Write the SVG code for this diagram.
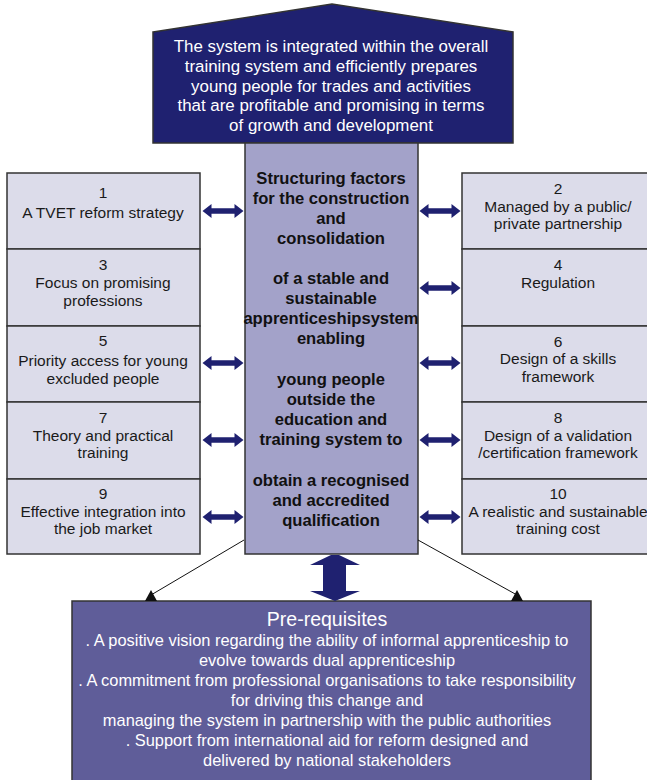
<svg xmlns="http://www.w3.org/2000/svg" width="647" height="780" viewBox="0 0 647 780">
<style>
  .box { fill: #dcdcea; stroke: #333; stroke-width: 1.5; }
  .t { font-family: "Liberation Sans", Arial, sans-serif; font-size: 15.5px; fill: #1a1a1a; text-anchor: middle; }
  .w { font-family: "Liberation Sans", Arial, sans-serif; font-size: 16.9px; fill: #ffffff; text-anchor: middle; }
  .b { font-family: "Liberation Sans", Arial, sans-serif; font-size: 16.6px; font-weight: bold; fill: #111; text-anchor: middle; }
  .p { font-family: "Liberation Sans", Arial, sans-serif; font-size: 16.4px; fill: #ffffff; text-anchor: middle; }
  .arr { fill: #1f2170; }
  .ln { stroke: #111; stroke-width: 1; fill: none; }
</style>
<defs>
  <polygon id="harrow" class="arr" points="-20.5,0 -11.5,-7 -11.5,-2.8 11.5,-2.8 11.5,-7 20.5,0 11.5,7 11.5,2.8 -11.5,2.8 -11.5,7"/>
</defs>
<rect width="647" height="780" fill="#ffffff"/>

<g id="top">
  <polygon points="153,32 332,4 513,32 513,143 153,143" fill="#1f2170" stroke="#333" stroke-width="1.5"/>
  <text class="w" x="331" y="52">The system is integrated within the overall</text>
  <text class="w" x="331" y="72">training system and efficiently prepares</text>
  <text class="w" x="331" y="92">young people for trades and activities</text>
  <text class="w" x="331" y="111">that are profitable and promising in terms</text>
  <text class="w" x="331" y="131">of growth and development</text>
</g>

<g id="center">
  <rect x="245" y="143" width="173" height="411" fill="#a3a2c9" stroke="#333" stroke-width="1.5"/>
  <text class="b" x="331" y="184">Structuring factors</text>
  <text class="b" x="331" y="204">for the construction</text>
  <text class="b" x="331" y="224">and</text>
  <text class="b" x="331" y="244">consolidation</text>
  <text class="b" x="331" y="284">of a stable and</text>
  <text class="b" x="331" y="304">sustainable</text>
  <text class="b" x="331" y="324">apprenticeshipsystem</text>
  <text class="b" x="331" y="344">enabling</text>
  <text class="b" x="331" y="385">young people</text>
  <text class="b" x="331" y="405">outside the</text>
  <text class="b" x="331" y="425">education and</text>
  <text class="b" x="331" y="445">training system to</text>
  <text class="b" x="331" y="486">obtain a recognised</text>
  <text class="b" x="331" y="506">and accredited</text>
  <text class="b" x="331" y="526">qualification</text>
</g>

<g id="n1">
  <rect class="box" x="7" y="173" width="193" height="76"/>
  <text class="t" x="103" y="198">1</text>
  <text class="t" x="103" y="218">A TVET reform strategy</text>
</g>
<g id="n3">
  <rect class="box" x="7" y="249" width="193" height="77"/>
  <text class="t" x="103" y="270">3</text>
  <text class="t" x="103" y="288">Focus on promising</text>
  <text class="t" x="103" y="306">professions</text>
</g>
<g id="n5">
  <rect class="box" x="7" y="326" width="193" height="76"/>
  <text class="t" x="103" y="346">5</text>
  <text class="t" x="103" y="366">Priority access for young</text>
  <text class="t" x="103" y="384">excluded people</text>
</g>
<g id="n7">
  <rect class="box" x="7" y="402" width="193" height="77"/>
  <text class="t" x="103" y="423">7</text>
  <text class="t" x="103" y="441">Theory and practical</text>
  <text class="t" x="103" y="458">training</text>
</g>
<g id="n9">
  <rect class="box" x="7" y="479" width="193" height="75"/>
  <text class="t" x="103" y="499">9</text>
  <text class="t" x="103" y="517">Effective integration into</text>
  <text class="t" x="103" y="534">the job market</text>
</g>

<g id="n2">
  <rect class="box" x="462" y="173" width="190" height="76"/>
  <text class="t" x="558" y="194">2</text>
  <text class="t" x="558" y="212">Managed by a public/</text>
  <text class="t" x="558" y="229">private partnership</text>
</g>
<g id="n4">
  <rect class="box" x="462" y="249" width="190" height="77"/>
  <text class="t" x="558" y="270">4</text>
  <text class="t" x="558" y="288">Regulation</text>
</g>
<g id="n6">
  <rect class="box" x="462" y="326" width="190" height="76"/>
  <text class="t" x="558" y="347">6</text>
  <text class="t" x="558" y="364">Design of a skills</text>
  <text class="t" x="558" y="382">framework</text>
</g>
<g id="n8">
  <rect class="box" x="462" y="402" width="190" height="77"/>
  <text class="t" x="558" y="423">8</text>
  <text class="t" x="558" y="441">Design of a validation</text>
  <text class="t" x="558" y="458">/certification framework</text>
</g>
<g id="n10">
  <rect class="box" x="462" y="479" width="190" height="75"/>
  <text class="t" x="558" y="499">10</text>
  <text class="t" x="558" y="517">A realistic and sustainable</text>
  <text class="t" x="558" y="534">training cost</text>
</g>

<g id="prereq">
  <rect x="72" y="601" width="519" height="185" fill="#5f5d99" stroke="#333" stroke-width="1.5"/>
  <text class="p" x="327" y="626" style="font-size:19.5px">Pre-requisites</text>
  <text class="p" x="327" y="646">. A positive vision regarding the ability of informal apprenticeship to</text>
  <text class="p" x="327" y="666">evolve towards dual apprenticeship</text>
  <text class="p" x="327" y="686">. A commitment from professional organisations to take responsibility</text>
  <text class="p" x="327" y="706">for driving this change and</text>
  <text class="p" x="327" y="726">managing the system in partnership with the public authorities</text>
  <text class="p" x="327" y="746">. Support from international aid for reform designed and</text>
  <text class="p" x="327" y="766">delivered by national stakeholders</text>
</g>

<g id="connectors">
  <use href="#harrow" x="223" y="211"/>
  <use href="#harrow" x="223" y="363"/>
  <use href="#harrow" x="223" y="440"/>
  <use href="#harrow" x="223" y="517"/>
  <use href="#harrow" x="440" y="211"/>
  <use href="#harrow" x="440" y="288"/>
  <use href="#harrow" x="440" y="363"/>
  <use href="#harrow" x="440" y="440"/>
  <use href="#harrow" x="440" y="517"/>
  <polygon class="arr" points="331,555 339,555 360,565 346,565 346,591 360,591 335,601 310,591 323,591 323,565 310,565"/>
  <line class="ln" x1="244" y1="540" x2="151" y2="595"/>
  <polygon points="151,590 145,601 157,601" fill="#111"/>
  <line class="ln" x1="418" y1="540" x2="517" y2="595"/>
  <polygon points="517,590 511,601 523,601" fill="#111"/>
</g>
</svg>
